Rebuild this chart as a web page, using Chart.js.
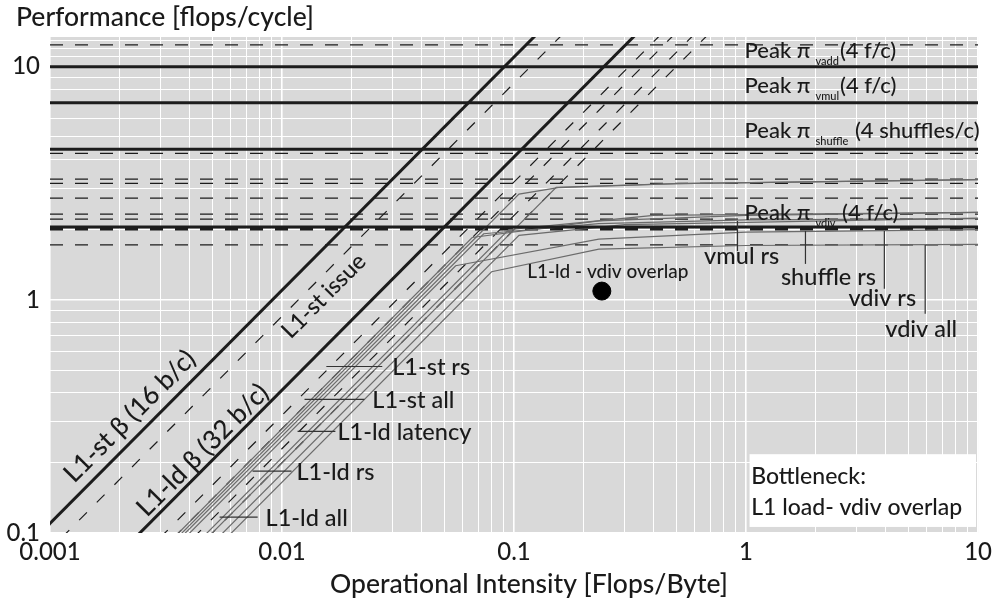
<!DOCTYPE html>
<html><head><meta charset="utf-8">
<script src="https://cdn.jsdelivr.net/npm/chart.js@4.4.1/dist/chart.umd.min.js"></script>
<style>html,body{margin:0;padding:0;background:#fff}#wrap{width:997px;height:615px;position:relative}</style>
</head><body><div id="wrap"><canvas id="c"></canvas></div>
<script>
const FONT = 'Lato, "Open Sans", sans-serif';
const W = '500 ';

// ---- axes ----
const xRange = [0.001, 10];
const yRange = [0.1, 13.4];
const xTickLabels = ['0.001', '0.01', '0.1', '1', '10'];
const yTickLabels = ['0.1', '1', '10'];

// ---- roofs (flops/cycle) ----
const peakSolid = [10, 7, 4.42, 2.05];
const peakDashed = [12.4, 4.25, 3.29, 3.16, 2.73, 2.33, 2.22, 1.72];
const peakDashedBold = [2.01];
// ---- bandwidth roofs (slope in the plot's units) ----
const bwSolid = [110, 41];
const bwDashed = [85, 32, 28, 23, 20];

// ---- measured curves: [intensity, performance] ----
const measured1 = [[0.003, 0.081], [0.105, 2.84], [0.155, 3.03], [0.5, 3.15], [10, 3.28]];
const measured2 = [[0.004, 0.08], [0.152, 3.04], [0.5, 3.15], [10, 3.28]];
const measured3 = [[0.0029, 0.081], [0.066, 1.85], [0.232, 2.18], [1, 2.3], [10, 2.37]];
const measured4 = [[0.0031, 0.081], [0.074, 1.92], [0.232, 2.12], [1, 2.2], [10, 2.23]];
const measured5 = [[0.0032, 0.08], [0.056, 1.40], [0.232, 1.82], [1, 1.95], [10, 2.0]];
const measured6 = [[0.0049, 0.081], [0.08, 1.32], [0.232, 1.65], [1, 1.71], [10, 1.73]];
const measured7 = [[0.0045, 0.081], [0.105, 1.89], [0.3, 2.1], [10, 2.24]];
const measured8 = [[0.0038, 0.08], [0.095, 2.0], [0.4, 2.3], [10, 2.37]];
const measuredCurves = [measured1, measured2, measured3, measured4, measured5, measured6, measured7, measured8];

// ---- highlighted point ----
const overlapPoint = [0.239, 1.09];

const DARK = '#1c1c1c';
const datasets = [];
function hline(v, w, dash){
  datasets.push({data:[{x:xRange[0], y:v}, {x:xRange[1], y:v}], borderColor:DARK, borderWidth:w, borderDash:dash||[], showLine:true, pointRadius:0});
}
function diag(b, w, dash){
  datasets.push({data:[{x:yRange[0]/b*0.8, y:yRange[0]*0.8}, {x:yRange[1]/b*1.2, y:yRange[1]*1.2}], borderColor:DARK, borderWidth:w, borderDash:dash||[], showLine:true, pointRadius:0});
}
peakDashed.forEach(v => hline(v, 1.3, [13, 12]));
peakDashedBold.forEach(v => hline(v, 3, [13, 12]));
bwDashed.forEach(b => diag(b, 1.2, [11, 14]));
measuredCurves.forEach(c => datasets.push({data:c.map(p => ({x:p[0], y:p[1]})), borderColor:'#6b6b6b', borderWidth:1.2, showLine:true, pointRadius:0, tension:0}));
peakSolid.forEach(v => hline(v, 3, []));
bwSolid.forEach(b => diag(b, 3, []));
datasets.push({data:[{x:overlapPoint[0], y:overlapPoint[1]}], pointRadius:9, pointBackgroundColor:'#000', pointBorderColor:'#000', showLine:false});
datasets.reverse();

// ---- annotations (log10 coordinates) ----
const leftLeaders = [
  {t:'L1-st rs', y:-0.286, x0:-1.809, x1:-1.568, tx:-1.525},
  {t:'L1-st all', y:-0.427, x0:-1.903, x1:-1.645, tx:-1.611},
  {t:'L1-ld latency', y:-0.564, x0:-1.933, x1:-1.770, tx:-1.761},
  {t:'L1-ld rs', y:-0.735, x0:-2.127, x1:-1.959, tx:-1.938},
  {t:'L1-ld all', y:-0.932, x0:-2.269, x1:-2.105, tx:-2.071}
];
const rightLeaders = [
  {t:'vmul rs', x:-0.037, y0:0.338, y1:0.209, tx:-0.019, ty:0.184},
  {t:'shuffle rs', x:0.256, y0:0.295, y1:0.154, tx:0.355, ty:0.094},
  {t:'vdiv rs', x:0.596, y0:0.295, y1:0.047, tx:0.587, ty:0.004},
  {t:'vdiv all', x:0.772, y0:0.235, y1:-0.060, tx:0.755, ty:-0.128}
];
const peakLabels = [
  {sub:'vadd', rest:'(4 f/c)', y:1.038, gap:1},
  {sub:'vmul', rest:'(4 f/c)', y:0.889, gap:1},
  {sub:'shuffle', rest:' (4 shuffles/c)', y:0.692, gap:1},
  {sub:'vdiv', rest:' (4 f/c)', y:0.342, gap:1}
];
const slopeLabels = [
  {t:'L1-st β (16 b/c)', x:-2.656, y:-0.500, size:26},
  {t:'L1-ld β (32 b/c)', x:-2.342, y:-0.645, size:26},
  {t:'L1-st issue', x:-1.820, y:0.016, size:23}
];

const annot = {
  id:'annot',
  beforeDraw(chart){
    const {ctx, chartArea:a} = chart;
    ctx.save(); ctx.fillStyle = '#d9d9d9';
    ctx.fillRect(a.left, a.top, a.right - a.left, a.bottom - a.top);
    ctx.restore();
  },
  afterDatasetsDraw(chart){
    const {ctx} = chart; const sx = chart.scales.x, sy = chart.scales.y;
    const X = l => sx.getPixelForValue(Math.pow(10, l));
    const Y = l => sy.getPixelForValue(Math.pow(10, l));
    ctx.save();
    ctx.fillStyle = '#1a1a1a'; ctx.strokeStyle = '#333';
    // left leaders
    ctx.lineWidth = 1.2;
    ctx.font = W + '23.5px ' + FONT; ctx.textBaseline = 'middle'; ctx.textAlign = 'left';
    leftLeaders.forEach(o => {
      ctx.beginPath(); ctx.moveTo(X(o.x0), Y(o.y)); ctx.lineTo(X(o.x1), Y(o.y)); ctx.stroke();
      ctx.fillText(o.t, X(o.tx), Y(o.y) + 1);
    });
    ctx.textAlign = 'center';
    rightLeaders.forEach(o => {
      ctx.beginPath(); ctx.moveTo(X(o.x), Y(o.y0)); ctx.lineTo(X(o.x), Y(o.y1)); ctx.stroke();
      ctx.fillText(o.t, X(o.tx), Y(o.ty));
    });
    // peak labels
    ctx.textAlign = 'left'; ctx.textBaseline = 'alphabetic';
    const px0 = X(-0.0065);
    peakLabels.forEach(o => {
      const by = Y(o.y);
      ctx.font = W + '22px ' + FONT;
      ctx.fillText('Peak π', px0, by);
      let xx = px0 + ctx.measureText('Peak π').width + 5;
      ctx.font = W + '11px ' + FONT;
      ctx.fillText(o.sub, xx, by + 7);
      xx += ctx.measureText(o.sub).width + o.gap;
      ctx.font = W + '22px ' + FONT;
      ctx.fillText(o.rest, xx, by);
    });
    // slope labels
    const ang = Math.atan2(Y(1) - Y(0), X(1) - X(0));
    ctx.textAlign = 'center'; ctx.textBaseline = 'middle';
    slopeLabels.forEach(o => {
      ctx.save(); ctx.font = W + o.size + 'px ' + FONT;
      ctx.translate(X(o.x), Y(o.y)); ctx.rotate(ang); ctx.fillText(o.t, 0, 0); ctx.restore();
    });
    // overlap label
    ctx.font = W + '19px ' + FONT;
    ctx.fillText('L1-ld - vdiv overlap', X(-0.596), Y(0.120));
    // bottleneck box
    const bx0 = X(0.015), bx1 = X(0.991), by0 = Y(-0.662), by1 = Y(-0.974);
    ctx.fillStyle = '#fff'; ctx.fillRect(bx0, by0, bx1 - bx0, by1 - by0);
    ctx.fillStyle = '#1a1a1a'; ctx.font = W + '23px ' + FONT; ctx.textAlign = 'left';
    ctx.fillText('Bottleneck:', X(0.022), Y(-0.756));
    ctx.fillText('L1 load- vdiv overlap', X(0.022), Y(-0.893));
    // axis titles
    ctx.font = W + '26.5px ' + FONT; ctx.textAlign = 'left';
    ctx.fillText('Performance [flops/cycle]', 16, 17);
    ctx.textAlign = 'center';
    ctx.fillText('Operational Intensity [Flops/Byte]', 529, 584);
    ctx.restore();
  }
};

function logTicks(lo, hi, extra){
  const t = [];
  for (let e = Math.round(Math.log10(lo)); Math.pow(10, e) < hi; e++)
    for (let m = 1; m <= 9; m++) t.push(+(m * Math.pow(10, e)).toPrecision(6));
  t.push(hi);
  return t.concat(extra || []);
}
function isPow10(v){ const l = Math.log10(v); return Math.abs(l - Math.round(l)) < 1e-9; }
function labelFor(v, list){
  if (!isPow10(v)) return '';
  const s = list.find(s => Math.abs(parseFloat(s) - v) < 1e-12);
  return s || '';
}

new Chart(document.getElementById('c'), {
  type:'scatter',
  data:{datasets},
  plugins:[annot],
  options:{
    responsive:true, maintainAspectRatio:false, animation:false,
    layout:{padding:{top:37, right:17, left:0, bottom:0}},
    plugins:{legend:{display:false}, tooltip:{enabled:false}},
    scales:{
      x:{type:'logarithmic', min:xRange[0], max:xRange[1],
        afterBuildTicks: s => { s.ticks = logTicks(xRange[0], xRange[1]).map(v => ({value:v})); },
        afterFit: s => { s.height = 82; },
        grid:{color:'#ffffff', lineWidth: c => (c.tick && isPow10(c.tick.value)) ? 1.6 : 1, drawTicks:false},
        border:{display:false},
        ticks:{autoSkip:false, maxRotation:0, padding:5, color:'#1a1a1a', font:{family:FONT, size:24, weight:'500'},
          callback: v => labelFor(v, xTickLabels)}
      },
      y:{type:'logarithmic', min:yRange[0], max:yRange[1],
        afterBuildTicks: s => { s.ticks = logTicks(yRange[0], 10, [11, 12, 13]).map(v => ({value:v})); },
        afterFit: s => { s.width = 50; },
        grid:{color:'#ffffff', lineWidth: c => (c.tick && isPow10(c.tick.value)) ? 1.6 : 1, drawTicks:false},
        border:{display:false},
        ticks:{autoSkip:false, padding:10, color:'#1a1a1a', font:{family:FONT, size:24, weight:'500'},
          callback: v => labelFor(v, yTickLabels)}
      }
    }
  }
});
</script></body></html>
